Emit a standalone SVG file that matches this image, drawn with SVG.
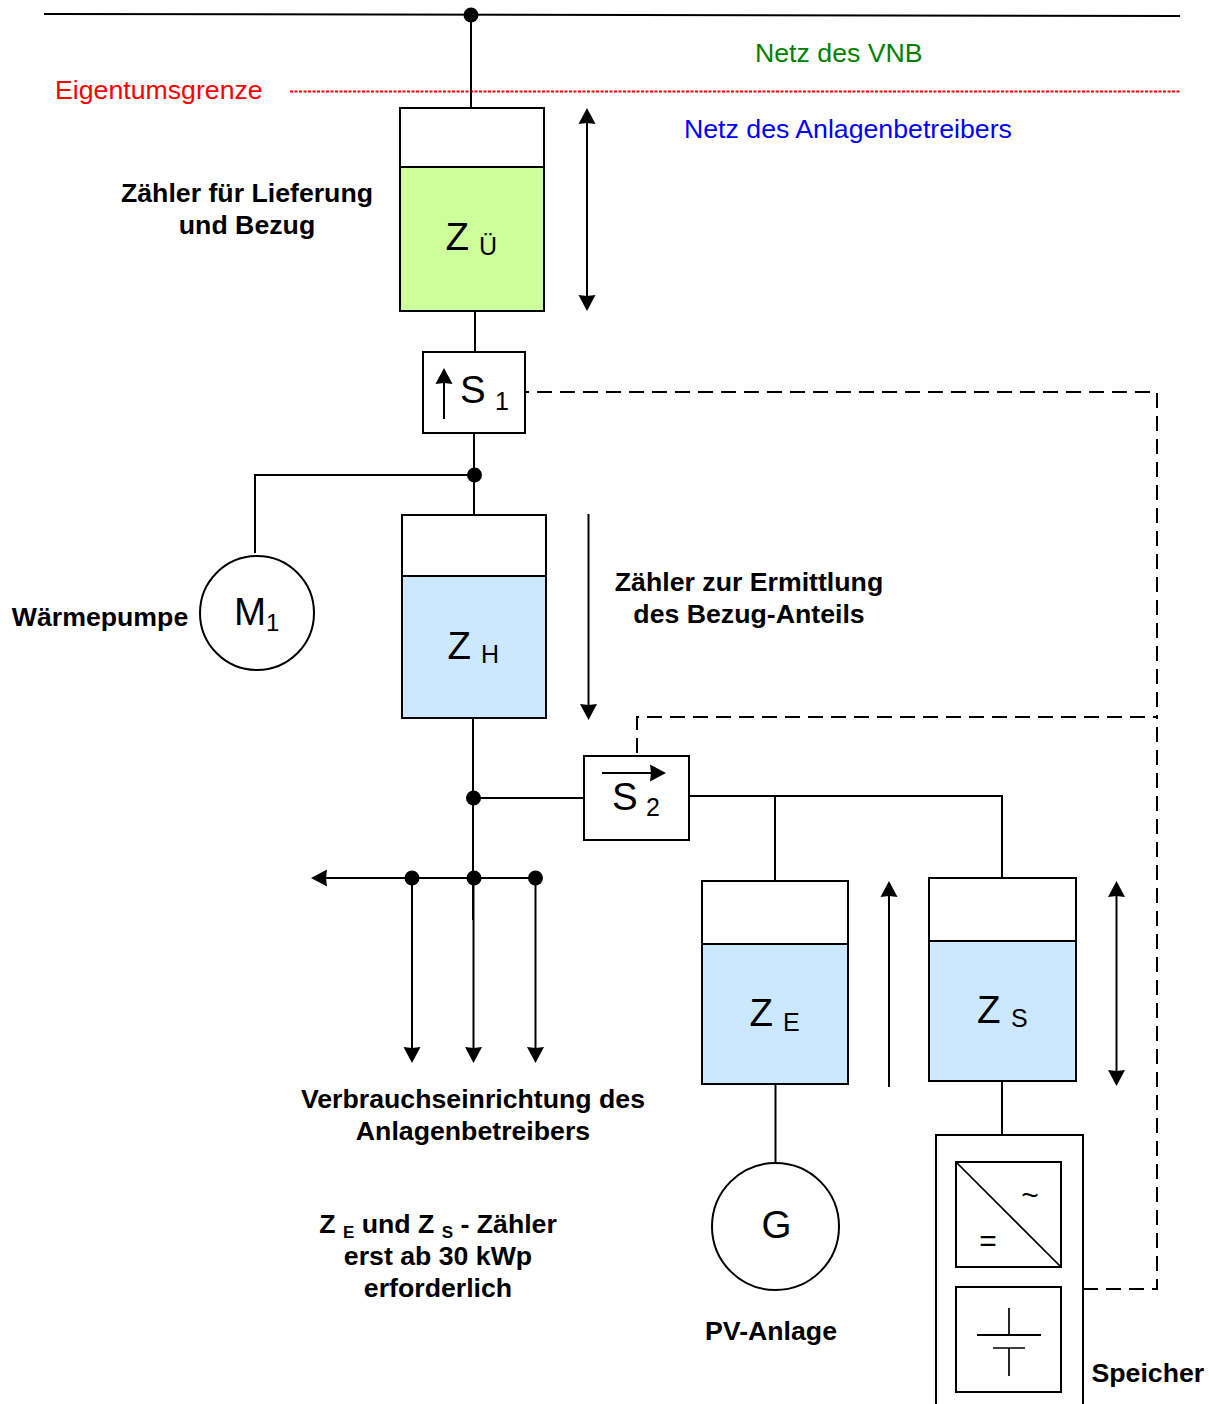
<svg xmlns="http://www.w3.org/2000/svg" width="1209" height="1404" viewBox="0 0 1209 1404">
<style>
text{font-family:"Liberation Sans",Arial,sans-serif;fill:#000}
.b{font-weight:bold;font-size:26.700px;text-anchor:middle}
.n{font-size:26.700px}
.z{font-size:38.500px}
.s{font-size:25px}
.l{fill:none;stroke:#000;stroke-width:2}
.t{fill:none;stroke:#000;stroke-width:1.700}
.d{fill:none;stroke:#000;stroke-width:2;stroke-dasharray:15 8}
.box{fill:#fff;stroke:#000;stroke-width:2}
.dot{fill:#000}
</style>
<defs>
<marker id="a" markerUnits="userSpaceOnUse" markerWidth="18" markerHeight="20" refX="13" refY="10" orient="auto-start-reverse"><path d="M0 1.500L16 10L0 18.500L1 10Z" fill="#000"/></marker>
</defs>
<rect width="1209" height="1404" fill="#fff"/>
<g id="connectors">
<path class="l" d="M44 14L1180 16"/>
<path d="M290 91.500H1180" fill="none" stroke="#f00" stroke-width="2" stroke-dasharray="3 1.500"/>
<path class="l" d="M471 15V108M475 311V352M474 433V515M255 553V475H474M473 718V920M474 798H585M689 796H1002V880M775 796V881M775.500 1084V1164M1002 1081V1135"/>
<path class="l" d="M587 111V308" marker-start="url(#a)" marker-end="url(#a)"/>
<path class="l" d="M588.500 514V717" marker-end="url(#a)"/>
<path class="l" d="M889 1087V884" marker-end="url(#a)"/>
<path class="l" d="M1116.500 884V1083" marker-start="url(#a)" marker-end="url(#a)"/>
<path class="l" d="M474 878H314" marker-end="url(#a)"/>
<path class="l" d="M474 878H536"/>
<path class="l" d="M412 878V1060" marker-end="url(#a)"/>
<path class="l" d="M473.500 878V1060" marker-end="url(#a)"/>
<path class="l" d="M535.500 878V1060" marker-end="url(#a)"/>
<path class="d" d="M526 392H1157V717" stroke-dashoffset="12"/>
<path class="d" d="M1083 1289H1157V717"/>
<path class="d" d="M637 753V717H1157"/>
<circle class="dot" cx="471" cy="15" r="7.500"/>
<circle class="dot" cx="474.500" cy="475" r="7.500"/>
<circle class="dot" cx="473.500" cy="798" r="7.500"/>
<circle class="dot" cx="412" cy="878" r="7.500"/>
<circle class="dot" cx="474" cy="878" r="7.500"/>
<circle class="dot" cx="535.500" cy="878" r="7.500"/>
</g>
<g id="labels">
<text x="755" y="62" class="n" style="fill:#008000">Netz des VNB</text>
<text x="55" y="99" class="n" style="fill:#f00">Eigentumsgrenze</text>
<text x="684" y="138" class="n" style="fill:#00f">Netz des Anlagenbetreibers</text>
<text x="247" y="202" class="b">Zähler für Lieferung</text>
<text x="247" y="234" class="b">und Bezug</text>
<text x="749" y="591" class="b">Zähler zur Ermittlung</text>
<text x="749" y="623" class="b">des Bezug-Anteils</text>
<text x="100" y="626" class="b">Wärmepumpe</text>
<text x="473" y="1108" class="b">Verbrauchseinrichtung des</text>
<text x="473" y="1140" class="b">Anlagenbetreibers</text>
<text x="438" y="1233" class="b">Z <tspan font-size="17" dy="5">E</tspan><tspan dy="-5"> und Z </tspan><tspan font-size="17" dy="5">S</tspan><tspan dy="-5"> - Zähler</tspan></text>
<text x="438" y="1265" class="b">erst ab 30 kWp</text>
<text x="438" y="1297" class="b">erforderlich</text>
<text x="771" y="1340" class="b">PV-Anlage</text>
<text x="1091.500" y="1382" class="b" style="text-anchor:start">Speicher</text>
</g>
<g id="zu">
<rect class="box" x="400" y="108" width="144" height="203"/>
<rect x="400" y="167" width="144" height="144" fill="#ccff99" stroke="#000" stroke-width="2"/>
<text x="445.500" y="250" class="z">Z</text><text x="479" y="255" class="s">Ü</text>
</g>
<g id="s1">
<rect class="box" x="423" y="352" width="102" height="81"/>
<path class="l" d="M444 419V371" marker-end="url(#a)"/>
<text x="460" y="403" class="z">S</text><text x="495" y="410" class="s">1</text>
</g>
<g id="zh">
<rect class="box" x="402" y="515" width="144" height="203"/>
<rect x="402" y="576" width="144" height="142" fill="#cce8ff" stroke="#000" stroke-width="2"/>
<text x="447.500" y="659" class="z">Z</text><text x="481" y="663" class="s">H</text>
</g>
<g id="m1">
<circle class="box" cx="257" cy="613" r="57"/>
<text x="234" y="625" class="z">M<tspan font-size="24" dy="6">1</tspan></text>
</g>
<g id="s2">
<rect class="box" x="584" y="756" width="105" height="84"/>
<path class="l" d="M602 773H663" marker-end="url(#a)"/>
<text x="612" y="810" class="z">S</text><text x="646" y="816" class="s">2</text>
</g>
<g id="ze">
<rect class="box" x="702" y="881" width="146" height="203"/>
<rect x="702" y="944" width="146" height="140" fill="#cce8ff" stroke="#000" stroke-width="2"/>
<text x="749.500" y="1026" class="z">Z</text><text x="783" y="1031" class="s">E</text>
</g>
<g id="zs">
<rect class="box" x="929" y="878" width="147" height="203"/>
<rect x="929" y="941" width="147" height="140" fill="#cce8ff" stroke="#000" stroke-width="2"/>
<text x="977" y="1023" class="z">Z</text><text x="1011" y="1027" class="s">S</text>
</g>
<g id="g">
<circle class="box" cx="775.500" cy="1226.500" r="63.500"/>
<text x="776.500" y="1238" class="z" text-anchor="middle">G</text>
</g>
<g id="speicher">
<path class="box" d="M936 1404V1135H1083V1404"/>
<rect class="box" x="956" y="1162" width="105" height="105"/>
<path class="t" d="M956 1162L1061 1267"/>
<text x="1030" y="1205" font-size="30" text-anchor="middle">~</text>
<text x="988" y="1251" font-size="30" text-anchor="middle">=</text>
<rect class="box" x="956" y="1287" width="105" height="105"/>
<path class="t" d="M1009 1308V1335M1009 1348V1376M993 1348H1025"/>
<path class="l" d="M977 1335H1041"/>
</g>
</svg>
